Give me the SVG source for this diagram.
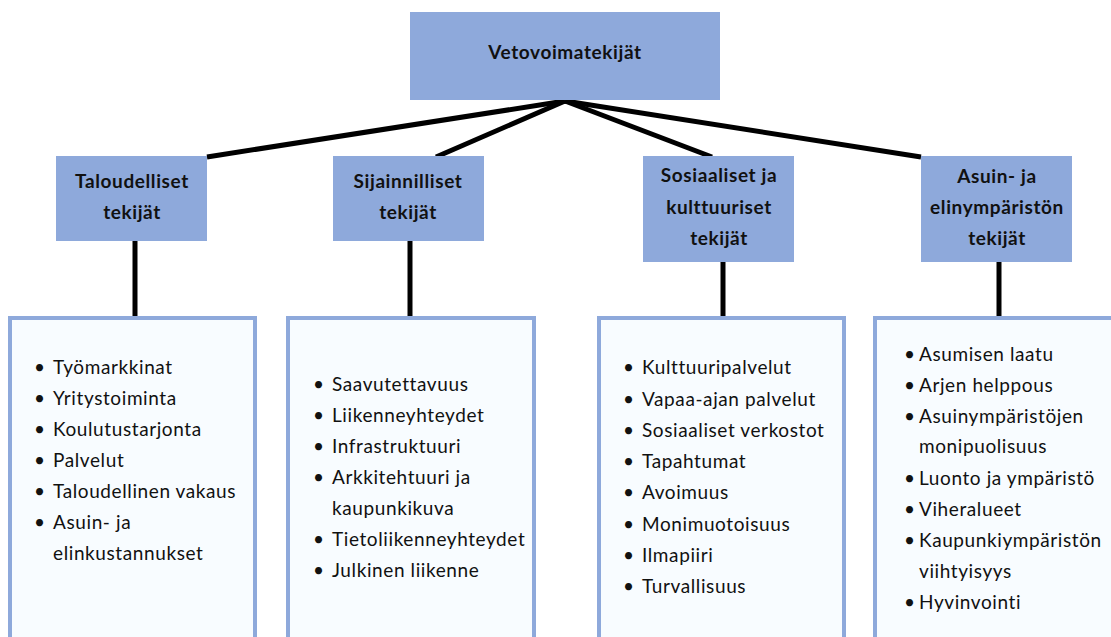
<svg xmlns="http://www.w3.org/2000/svg" width="1111" height="637" viewBox="0 0 1111 637">
<style>
.hdr{fill:#8EA9DB;}
.lst{fill:#F8FCFF;stroke:#8EA9DB;stroke-width:4;}
.ht{font-family:Lato,"Liberation Sans",sans-serif;font-weight:bold;font-size:19px;letter-spacing:0.6px;fill:#111;text-anchor:middle;}
.it{font-family:Lato,"Liberation Sans",sans-serif;font-size:19px;letter-spacing:0.6px;fill:#111;}
.conn line{stroke:#000;stroke-width:5;stroke-linecap:butt;}
</style>
<rect width="1111" height="637" fill="#fff"/>
<g class="conn" id="connectors">
<line x1="565" y1="101" x2="207" y2="157"/>
<line x1="565" y1="101" x2="436" y2="157"/>
<line x1="565" y1="101" x2="712" y2="157"/>
<line x1="565" y1="101" x2="921" y2="157"/>
<line x1="135" y1="241" x2="135" y2="316"/>
<line x1="410" y1="241" x2="410" y2="316"/>
<line x1="723" y1="262" x2="723" y2="316"/>
<line x1="999" y1="262" x2="999" y2="316"/>
</g>
<g id="root">
<rect class="hdr" x="410" y="12" width="310" height="88"/>
<text class="ht" x="565" y="59">Vetovoimatekijät</text>
</g>
<g id="taloudelliset">
<rect class="hdr" x="56" y="156" width="151" height="85"/>
<text class="ht" x="132" y="188">Taloudelliset</text>
<text class="ht" x="132" y="219">tekijät</text>
</g>
<g id="sijainnilliset">
<rect class="hdr" x="333" y="156" width="151" height="85"/>
<text class="ht" x="408" y="188">Sijainnilliset</text>
<text class="ht" x="408" y="219">tekijät</text>
</g>
<g id="sosiaaliset">
<rect class="hdr" x="643" y="156" width="151" height="106"/>
<text class="ht" x="719" y="182">Sosiaaliset ja</text>
<text class="ht" x="719" y="214">kulttuuriset</text>
<text class="ht" x="719" y="245">tekijät</text>
</g>
<g id="asuin">
<rect class="hdr" x="921" y="156" width="151" height="106"/>
<text class="ht" x="997" y="183">Asuin- ja</text>
<text class="ht" x="997" y="214">elinympäristön</text>
<text class="ht" x="997" y="245">tekijät</text>
</g>
<g id="list-taloudelliset">
<rect class="lst" x="10" y="318" width="245" height="340"/>
<text class="it" x="34" y="374">•</text><text class="it" x="53" y="374">Työmarkkinat</text>
<text class="it" x="34" y="405">•</text><text class="it" x="53" y="405">Yritystoiminta</text>
<text class="it" x="34" y="436">•</text><text class="it" x="53" y="436">Koulutustarjonta</text>
<text class="it" x="34" y="467">•</text><text class="it" x="53" y="467">Palvelut</text>
<text class="it" x="34" y="498">•</text><text class="it" x="53" y="498">Taloudellinen vakaus</text>
<text class="it" x="34" y="529">•</text><text class="it" x="53" y="529">Asuin- ja</text>
<text class="it" x="53" y="560">elinkustannukset</text>
</g>
<g id="list-sijainnilliset">
<rect class="lst" x="288" y="318" width="246" height="340"/>
<text class="it" x="313" y="391">•</text><text class="it" x="332" y="391">Saavutettavuus</text>
<text class="it" x="313" y="422">•</text><text class="it" x="332" y="422">Liikenneyhteydet</text>
<text class="it" x="313" y="453">•</text><text class="it" x="332" y="453">Infrastruktuuri</text>
<text class="it" x="313" y="484">•</text><text class="it" x="332" y="484">Arkkitehtuuri ja</text>
<text class="it" x="332" y="515">kaupunkikuva</text>
<text class="it" x="313" y="546">•</text><text class="it" x="332" y="546">Tietoliikenneyhteydet</text>
<text class="it" x="313" y="577">•</text><text class="it" x="332" y="577">Julkinen liikenne</text>
</g>
<g id="list-sosiaaliset">
<rect class="lst" x="599" y="318" width="245" height="340"/>
<text class="it" x="623" y="374">•</text><text class="it" x="642" y="374">Kulttuuripalvelut</text>
<text class="it" x="623" y="406">•</text><text class="it" x="642" y="406">Vapaa-ajan palvelut</text>
<text class="it" x="623" y="437">•</text><text class="it" x="642" y="437">Sosiaaliset verkostot</text>
<text class="it" x="623" y="468">•</text><text class="it" x="642" y="468">Tapahtumat</text>
<text class="it" x="623" y="499">•</text><text class="it" x="642" y="499">Avoimuus</text>
<text class="it" x="623" y="531">•</text><text class="it" x="642" y="531">Monimuotoisuus</text>
<text class="it" x="623" y="562">•</text><text class="it" x="642" y="562">Ilmapiiri</text>
<text class="it" x="623" y="593">•</text><text class="it" x="642" y="593">Turvallisuus</text>
</g>
<g id="list-asuin">
<rect class="lst" x="875" y="318" width="250" height="340"/>
<text class="it" x="904" y="361">•</text><text class="it" x="919" y="361">Asumisen laatu</text>
<text class="it" x="904" y="392">•</text><text class="it" x="919" y="392">Arjen helppous</text>
<text class="it" x="904" y="423">•</text><text class="it" x="919" y="423">Asuinympäristöjen</text>
<text class="it" x="919" y="453">monipuolisuus</text>
<text class="it" x="904" y="485">•</text><text class="it" x="919" y="485">Luonto ja ympäristö</text>
<text class="it" x="904" y="516">•</text><text class="it" x="919" y="516">Viheralueet</text>
<text class="it" x="904" y="547">•</text><text class="it" x="919" y="547">Kaupunkiympäristön</text>
<text class="it" x="919" y="578">viihtyisyys</text>
<text class="it" x="904" y="609">•</text><text class="it" x="919" y="609">Hyvinvointi</text>
</g>
</svg>
